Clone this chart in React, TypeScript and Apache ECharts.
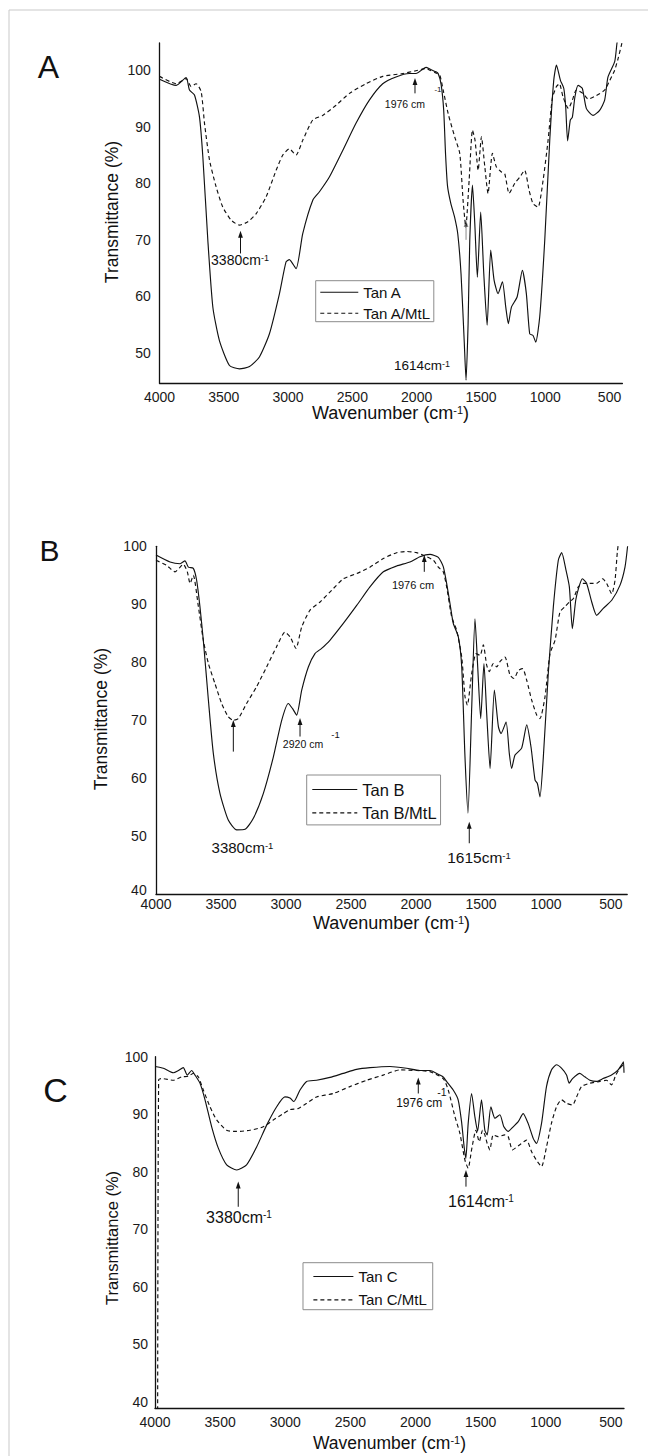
import React, { useEffect, useRef } from "react";
import * as echarts from "echarts";

const FONT = '"Liberation Sans", Arial, Helvetica, sans-serif';
const INK = "#111111";

// ---------- tick labels ----------
const xTickValues = [4000, 3500, 3000, 2500, 2000, 1500, 1000, 500];
const yTicksA = [50, 60, 70, 80, 90, 100];
const yTicksB = [40, 50, 60, 70, 80, 90, 100];
const yTicksC = [40, 50, 60, 70, 80, 90, 100];

const seriesNames = ["Tan A", "Tan A/MtL", "Tan B", "Tan B/MtL", "Tan C", "Tan C/MtL"];

// ---------- Panel A ----------
const tanA_wn = [4000, 3870, 3793, 3767, 3728, 3689, 3663, 3624, 3585, 3534, 3456, 3378, 3300, 3223, 3145, 3067, 3016, 2990, 2938, 2886, 2808, 2756, 2679, 2575, 2472, 2368, 2264, 2161, 2057, 2005, 1927, 1898, 1850, 1833, 1810, 1790, 1775, 1760, 1735, 1705, 1680, 1655, 1630, 1616, 1600, 1587, 1566, 1548, 1528, 1502, 1478, 1452, 1424, 1398, 1367, 1333, 1307, 1287, 1263, 1219, 1178, 1147, 1121, 1095, 1074, 1043, 1004, 965, 934, 913, 882, 856, 841, 826, 805, 789, 769, 745, 712, 680, 629, 577, 538, 512, 460, 442, 425];
const tanA_T = [98.4, 97.3, 98.7, 96.5, 95.6, 91.7, 84.7, 69.9, 58.1, 52.2, 47.8, 47.2, 47.6, 49.3, 53.4, 60.5, 66.1, 66.5, 64.9, 71.1, 77.0, 78.5, 81.1, 85.8, 90.6, 94.7, 97.6, 98.8, 99.4, 99.4, 100.5, 100.2, 99.7, 99.4, 97.5, 93.0, 85.0, 79.5, 76.5, 74.0, 71.0, 64.0, 52.0, 45.2, 55.2, 69.9, 79.7, 72.9, 63.4, 74.9, 64.0, 54.9, 68.2, 62.9, 60.5, 62.6, 58.1, 55.2, 58.1, 59.9, 64.6, 60.5, 53.4, 53.1, 51.9, 56.4, 69.9, 87.6, 98.2, 100.9, 98.2, 96.8, 93.5, 87.5, 91.2, 91.7, 95.3, 97.3, 96.8, 93.2, 92.0, 92.9, 94.7, 98.8, 101.5, 104.8, 107.0];

const tanAMtL_wn = [4000, 3870, 3793, 3754, 3715, 3676, 3650, 3611, 3560, 3508, 3443, 3378, 3313, 3249, 3171, 3093, 3041, 2990, 2938, 2886, 2808, 2731, 2627, 2523, 2394, 2264, 2109, 2005, 1927, 1898, 1850, 1820, 1794, 1755, 1704, 1665, 1639, 1618, 1592, 1566, 1546, 1522, 1496, 1470, 1445, 1411, 1380, 1341, 1315, 1281, 1237, 1198, 1160, 1126, 1095, 1056, 1017, 978, 945, 913, 890, 862, 820, 789, 758, 707, 667, 603, 537, 498, 460, 434, 408, 395];
const tanAMtL_T = [98.9, 97.6, 98.5, 97.1, 97.6, 96.2, 90.6, 84.1, 79.4, 75.8, 73.5, 72.6, 73.2, 74.6, 77.6, 82.3, 85.0, 86.1, 85.0, 87.6, 91.2, 92.0, 93.8, 95.9, 97.6, 98.9, 99.4, 99.9, 100.3, 100.0, 99.5, 99.1, 96.5, 92.3, 88.2, 85.3, 77.0, 72.3, 80.5, 89.4, 87.6, 82.3, 88.2, 82.9, 78.2, 85.3, 82.9, 82.0, 81.7, 78.2, 80.0, 81.1, 82.3, 78.8, 76.4, 75.8, 80.5, 87.6, 95.0, 97.1, 97.6, 95.3, 93.2, 94.7, 96.5, 95.9, 94.9, 95.5, 96.5, 98.2, 100.0, 102.0, 104.4, 105.6];

// ---------- Panel B ----------
const tanB_wn = [4000, 3892, 3815, 3777, 3751, 3713, 3687, 3662, 3636, 3597, 3559, 3508, 3444, 3379, 3315, 3251, 3174, 3097, 3033, 2982, 2949, 2918, 2879, 2828, 2777, 2726, 2662, 2559, 2456, 2354, 2251, 2149, 2046, 1969, 1892, 1828, 1790, 1764, 1738, 1713, 1674, 1648, 1623, 1600, 1571, 1546, 1525, 1502, 1477, 1456, 1430, 1397, 1366, 1346, 1307, 1282, 1264, 1238, 1187, 1148, 1115, 1084, 1066, 1046, 1020, 982, 943, 905, 879, 846, 820, 797, 771, 746, 720, 687, 648, 610, 559, 494, 430, 392, 372];
const tanB_T = [98.5, 97.3, 97.0, 97.5, 96.4, 96.2, 94.1, 89.6, 83.8, 73.5, 64.3, 57.4, 52.8, 51.1, 51.2, 53.1, 57.4, 63.7, 70.0, 72.9, 72.0, 70.9, 75.2, 79.2, 81.5, 82.4, 83.8, 86.7, 89.8, 93.0, 95.6, 96.6, 97.3, 98.2, 98.6, 98.1, 96.5, 93.6, 90.1, 86.7, 84.4, 79.2, 63.7, 54.0, 72.3, 87.5, 79.2, 70.3, 79.8, 71.2, 61.7, 75.2, 68.9, 67.7, 69.7, 64.3, 61.7, 64.0, 65.2, 69.2, 65.4, 59.7, 59.1, 56.8, 63.7, 78.1, 89.6, 97.6, 98.9, 95.9, 93.0, 85.8, 90.7, 93.0, 94.4, 93.6, 90.4, 88.1, 89.3, 90.7, 93.3, 96.4, 100.0];

const tanBMtL_wn = [4000, 3918, 3854, 3790, 3759, 3738, 3713, 3674, 3636, 3597, 3546, 3495, 3444, 3405, 3367, 3303, 3226, 3149, 3072, 3008, 2969, 2923, 2879, 2815, 2738, 2649, 2559, 2456, 2354, 2251, 2149, 2072, 1995, 1918, 1866, 1828, 1790, 1764, 1725, 1687, 1648, 1623, 1605, 1571, 1538, 1507, 1482, 1456, 1436, 1405, 1379, 1354, 1315, 1277, 1246, 1212, 1179, 1148, 1110, 1071, 1046, 1007, 969, 930, 892, 854, 820, 789, 751, 712, 661, 610, 564, 533, 494, 469, 451, 440];
const tanBMtL_T = [97.6, 96.7, 95.6, 96.9, 95.6, 93.6, 95.0, 89.6, 83.8, 79.8, 76.3, 72.9, 70.6, 70.0, 70.3, 72.9, 75.8, 79.2, 82.7, 85.2, 84.4, 82.4, 86.1, 89.0, 90.4, 92.4, 94.4, 95.3, 96.4, 97.9, 98.9, 99.1, 98.9, 98.2, 97.6, 96.4, 95.6, 93.0, 87.8, 85.5, 80.9, 74.1, 72.6, 78.1, 81.5, 81.2, 83.0, 79.5, 78.4, 79.8, 79.2, 80.1, 80.9, 77.8, 77.2, 78.6, 78.9, 76.9, 73.5, 70.9, 70.3, 74.1, 81.5, 83.8, 88.7, 89.6, 90.4, 91.0, 93.0, 93.6, 93.6, 93.6, 94.4, 93.6, 91.8, 94.1, 99.0, 101.0];

// ---------- Panel C ----------
const tanC_wn = [4000, 3936, 3859, 3821, 3783, 3752, 3719, 3693, 3655, 3616, 3565, 3514, 3450, 3373, 3297, 3220, 3143, 3066, 3003, 2964, 2934, 2887, 2836, 2760, 2657, 2555, 2453, 2350, 2197, 2069, 1967, 1890, 1813, 1788, 1762, 1711, 1673, 1647, 1627, 1614, 1596, 1570, 1545, 1524, 1494, 1468, 1450, 1422, 1391, 1353, 1322, 1289, 1251, 1212, 1174, 1136, 1097, 1072, 1033, 995, 957, 918, 880, 841, 821, 795, 739, 701, 662, 611, 560, 496, 445, 412, 404, 400];
const tanC_T = [98.3, 98.0, 97.2, 97.6, 98.1, 96.8, 97.6, 96.8, 95.4, 92.5, 87.8, 84.1, 81.2, 80.3, 81.2, 84.3, 88.1, 91.3, 93.0, 92.8, 92.2, 94.2, 95.7, 95.9, 96.4, 97.1, 97.8, 98.1, 98.3, 98.0, 97.6, 97.6, 96.8, 96.5, 95.7, 94.2, 92.5, 88.7, 84.3, 82.3, 88.4, 93.6, 89.6, 87.0, 92.5, 87.2, 86.4, 91.3, 89.3, 89.9, 87.8, 87.0, 87.8, 88.7, 90.1, 88.4, 85.8, 84.9, 88.4, 94.8, 97.7, 98.6, 98.0, 96.8, 95.4, 96.2, 97.1, 96.5, 95.9, 95.7, 96.2, 96.8, 97.7, 98.8, 99.1, 97.2];

const tanCMtL_wn = [3980, 3972, 3949, 3859, 3795, 3744, 3706, 3668, 3629, 3578, 3527, 3450, 3373, 3271, 3169, 3092, 3015, 2964, 2900, 2836, 2760, 2632, 2504, 2376, 2248, 2120, 1992, 1890, 1788, 1749, 1698, 1660, 1621, 1596, 1570, 1537, 1511, 1486, 1468, 1450, 1430, 1404, 1366, 1315, 1289, 1256, 1205, 1148, 1110, 1072, 1033, 995, 957, 918, 880, 841, 795, 764, 726, 662, 585, 534, 496, 463, 432, 406];
const tanCMtL_T = [30.0, 96.0, 96.2, 95.9, 96.5, 96.6, 97.1, 96.5, 94.2, 91.3, 89.0, 87.2, 87.0, 87.2, 87.8, 89.0, 90.1, 90.8, 91.0, 91.9, 93.0, 93.6, 94.8, 95.9, 96.8, 97.7, 97.6, 97.4, 96.2, 94.2, 89.6, 86.7, 82.0, 80.6, 83.8, 87.2, 85.2, 87.2, 86.4, 84.9, 83.8, 86.4, 86.1, 86.4, 86.1, 83.8, 84.6, 85.5, 83.5, 82.0, 80.9, 84.3, 88.4, 91.3, 92.5, 91.9, 91.6, 93.0, 94.8, 95.4, 95.7, 95.9, 95.1, 96.8, 98.0, 98.6];

// ---------- peak annotations (data coordinates: wavenumber, tip, tail) ----------
const arrowsA = [[3370, 71.6, 67.6], [2013, 98.6, 95.9], [1616, 73.5, 70.0]];
const arrowsB = [[3405, 70.05, 64.6], [2892, 70.4, 67.2], [1936, 98.5, 95.6], [1590, 52.5, 48.8]];
const arrowsC = [[3361, 78.3, 73.9], [1979, 96.4, 93.6], [1613, 80.3, 77.4]];

const zip = (a: number[], b: number[]) => a.map((v, i) => [v, b[i]]);

function supLabel(x: number, y: number, main: string, sup: string, tail: string, fs: number, ss: number, shift: number, align = "center") {
  const L = shift + fs / 2 + ss / 2;
  const rich: any = {
    n: { fontSize: fs, lineHeight: fs, fontFamily: FONT, fill: INK, verticalAlign: "bottom" },
    s: { fontSize: ss, lineHeight: ss, fontFamily: FONT, fill: INK, verticalAlign: "top", padding: [0, 0, L - ss, 0] },
  };
  let text = `{n|${main}}{s|${sup}}`;
  if (tail) text += `{n|${tail}}`;
  return {
    type: "text",
    x,
    y: y - (L - fs / 2),
    silent: true,
    style: { text, rich, align, verticalAlign: "top" },
  };
}

function plainText(x: number, y: number, text: string, fs: number, rotation = 0, fill = INK) {
  return {
    type: "text",
    x,
    y,
    rotation,
    silent: true,
    style: { text, fontSize: fs, fontFamily: FONT, fill, align: "center", verticalAlign: "middle" },
  };
}

function arrow(p: number[], q: number[], color: string) {
  const x = p[0];
  const tip = p[1];
  const tail = q[1];
  return [
    { type: "line", silent: true, shape: { x1: x, y1: tip + 5, x2: x, y2: tail }, style: { stroke: color, lineWidth: 1 } },
    { type: "polygon", silent: true, shape: { points: [[x, tip], [x - 2.4, tip + 7], [x + 2.4, tip + 7]] }, style: { fill: color } },
  ];
}

const gridsPx = [
  { left: 159.5, top: 43, width: 462.9, height: 340 },
  { left: 156, top: 546.3, width: 471.2, height: 348 },
  { left: 155, top: 1056.7, width: 469, height: 351.6 },
];
const xMins = [400, 375, 400];
const yRanges = [[44.7, 104.8], [40, 100], [38.85, 100]];
const yTicksAll = [yTicksA, yTicksB, yTicksC];
const xLabelMargin = [6.5, 2.8, 6.3];
const yLabelMargin = [8.7, 9.3, 7];

function buildOption() {
  const axisLine = { show: true, onZero: false, lineStyle: { color: INK, width: 1.3 } };
  const labelStyle = { fontSize: 14, fontFamily: FONT, color: "#1a1a1a" };
  const xAxis = gridsPx.map((_, i) => ({
    type: "value",
    gridIndex: i,
    min: xMins[i],
    max: 4000,
    inverse: true,
    axisLine,
    axisTick: { show: false },
    splitLine: { show: false },
    axisLabel: { ...labelStyle, customValues: xTickValues, margin: xLabelMargin[i], formatter: (v: number) => String(v) },
  }));
  const yAxis = gridsPx.map((_, i) => ({
    type: "value",
    gridIndex: i,
    min: yRanges[i][0],
    max: yRanges[i][1],
    axisLine,
    axisTick: { show: false },
    splitLine: { show: false },
    axisLabel: {
      ...labelStyle,
      customValues: yTicksAll[i],
      margin: yLabelMargin[i],
      // the lowest label of panel B sits a little above its tick, as in the original
      formatter: (v: number) => (i === 1 && v === 40 ? "{lo|40}" : String(v)),
      rich: { lo: { fontSize: 14, fontFamily: FONT, color: "#1a1a1a", padding: [0, 0, 8, 0] } },
    },
  }));
  const mk = (name: string, wn: number[], t: number[], gi: number, dashed: boolean) => ({
    name,
    type: "line",
    xAxisIndex: gi,
    yAxisIndex: gi,
    data: zip(wn, t),
    symbol: "none",
    smooth: 0.2,
    clip: true,
    silent: true,
    color: INK,
    lineStyle: { color: INK, width: 1.15, type: dashed ? [4, 3] : "solid" },
    emphasis: { disabled: true },
  });
  const series = [
    mk(seriesNames[0], tanA_wn, tanA_T, 0, false),
    mk(seriesNames[1], tanAMtL_wn, tanAMtL_T, 0, true),
    mk(seriesNames[2], tanB_wn, tanB_T, 1, false),
    mk(seriesNames[3], tanBMtL_wn, tanBMtL_T, 1, true),
    mk(seriesNames[4], tanC_wn, tanC_T, 2, false),
    mk(seriesNames[5], tanCMtL_wn, tanCMtL_T, 2, true),
  ];
  const leg = (names: string[], left: number, top: number, padding: number[], itemWidth: number, itemHeight: number, itemGap: number, fs: number) => ({
    data: names,
    left,
    top,
    orient: "vertical",
    padding,
    itemWidth,
    itemHeight,
    itemGap,
    borderColor: "#8c8c8c",
    borderWidth: 1,
    selectedMode: false,
    itemStyle: { opacity: 0 },
    lineStyle: { width: 1.15 },
    textStyle: { fontSize: fs, fontFamily: FONT, color: INK, lineHeight: itemHeight },
  });
  const legend = [
    leg([seriesNames[0], seriesNames[1]], 315.7, 280.7, [4, 3, 1, 4], 38, 14, 6, 15),
    leg([seriesNames[2], seriesNames[3]], 306.7, 775, [6, 4, 3.5, 5], 45, 16, 6.4, 16.5),
    leg([seriesNames[4], seriesNames[5]], 303, 1262.7, [6.3, 6, 2.4, 9.8], 40, 14, 8.3, 15),
  ];
  return {
    animation: false,
    backgroundColor: "#ffffff",
    grid: gridsPx.map((g) => ({ ...g, containLabel: false })),
    xAxis,
    yAxis,
    series,
    legend,
  };
}

function buildGraphic(chart: any) {
  const px = (gi: number, w: number, v: number) => chart.convertToPixel({ gridIndex: gi }, [w, v]);
  const els: any[] = [];
  // figure frame
  els.push({ type: "line", silent: true, shape: { x1: 9, y1: 10, x2: 648, y2: 10 }, style: { stroke: "#c9c9c9", lineWidth: 1 } });
  els.push({ type: "line", silent: true, shape: { x1: 9, y1: 10, x2: 9, y2: 1456 }, style: { stroke: "#c9c9c9", lineWidth: 1 } });

  // panel letters
  els.push(plainText(48.5, 66.5, "A", 32));
  els.push(plainText(49.5, 550, "B", 30));
  els.push(plainText(55.5, 1090, "C", 34));

  // axis titles
  els.push(plainText(111.6, 212, "Transmittance (%)", 17.5, Math.PI / 2));
  els.push(plainText(101.2, 719, "Transmittance (%)", 17.5, Math.PI / 2));
  els.push(plainText(112, 1238, "Transmittance (%)", 16.5, Math.PI / 2));
  els.push(supLabel(390.5, 418.3, "Wavenumber (cm", "-1", ")", 18, 11, 8.5));
  els.push(supLabel(391.5, 928.3, "Wavenumber (cm", "-1", ")", 18, 11, 8.5));
  els.push(supLabel(389.5, 1448.3, "Wavenumber (cm", "-1", ")", 17.5, 11, 8.5));

  // arrows
  arrowsA.forEach((a, i) => {
    const p = px(0, a[0], a[1]);
    const q = px(0, a[0], a[2]);
    els.push(...arrow(p, q, i === 2 ? "#8a8a8a" : INK));
  });
  arrowsB.forEach((a) => els.push(...arrow(px(1, a[0], a[1]), px(1, a[0], a[2]), INK)));
  arrowsC.forEach((a) => els.push(...arrow(px(2, a[0], a[1]), px(2, a[0], a[2]), INK)));

  // peak labels (anchored in data coordinates)
  let p = px(0, 3374, 65.3);
  els.push(supLabel(p[0], p[1], "3380cm", "-1", "", 14, 9, 8.5));
  p = px(0, 2091, 94.1);
  els.push(plainText(p[0], p[1], "1976 cm", 10.5));
  p = px(0, 1834, 96.5);
  els.push(plainText(p[0], p[1], "-1", 8));
  p = px(0, 1958, 46.7);
  els.push(supLabel(p[0], p[1], "1614cm", "-1", "", 13.5, 9, 8));

  p = px(1, 3335, 47.1);
  els.push(supLabel(p[0], p[1], "3380cm", "-1", "", 15, 9.5, 8));
  p = px(1, 2869, 65.9);
  els.push(plainText(p[0], p[1], "2920 cm", 10.5));
  p = px(1, 2619, 67.6);
  els.push(plainText(p[0], p[1], "-1", 9.5));
  p = px(1, 2023, 93.3);
  els.push(plainText(p[0], p[1], "1976 cm", 11));
  p = px(1, 1515, 45.6);
  els.push(supLabel(p[0], p[1], "1615cm", "-1", "", 15.5, 9.5, 7));

  p = px(2, 3355, 71.3);
  els.push(supLabel(p[0], p[1], "3380cm", "-1", "", 16, 10, 7));
  p = px(2, 1972, 91.9);
  els.push(plainText(p[0], p[1], "1976 cm", 12));
  p = px(2, 1797, 93.9);
  els.push(plainText(p[0], p[1], "-1", 10.5));
  p = px(2, 1498, 74.2);
  els.push(supLabel(p[0], p[1], "1614cm", "-1", "", 16, 10, 7));

  return els;
}

export default function App() {
  const ref = useRef<HTMLDivElement>(null);
  useEffect(() => {
    if (!ref.current) return;
    const chart = echarts.init(ref.current, null, { renderer: "svg" });
    chart.setOption(buildOption() as any);
    chart.setOption({ graphic: { elements: buildGraphic(chart) } } as any);
    return () => chart.dispose();
  }, []);
  return <div ref={ref} style={{ position: "absolute", left: 0, top: 0, width: 648, height: 1456, background: "#fff" }} />;
}
